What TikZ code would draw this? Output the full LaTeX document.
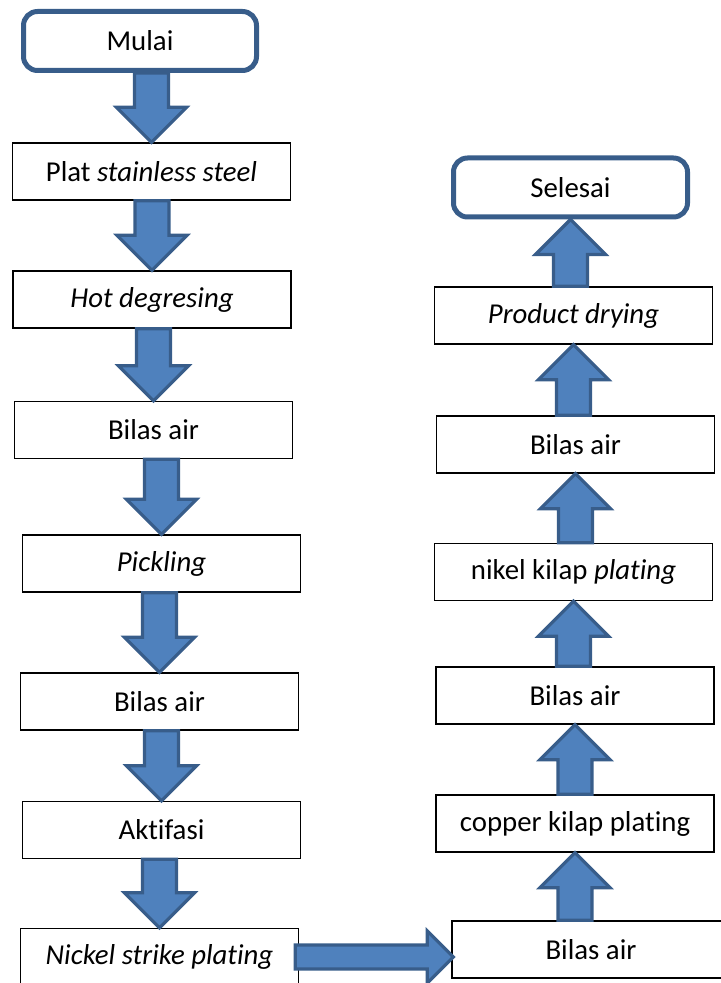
\documentclass[tikz,border=0pt]{standalone}
\usepackage{fontspec}
\setmainfont[Ligatures=NoCommon]{Carlito}
\usepackage{tikz}
\usetikzlibrary{calc}
\definecolor{arrowblue}{HTML}{4F81BD}
\definecolor{edgeblue}{HTML}{385D8A}
\tikzstyle{stepbox} = [draw, rectangle, minimum width=139pt,
    minimum height=28.5pt, inner sep=0pt, line width=0.7pt]
\tikzstyle{terminal} = [draw=edgeblue, rectangle, rounded corners=7pt,
    line width=2.5pt, minimum width=116.5pt, minimum height=29.5pt, inner sep=0pt]
\tikzstyle{fatarrow} = [fill=arrowblue, draw=edgeblue, line width=1.6pt]
% block arrows between two boxes
\newcommand{\arrowdown}[2]{%
  \draw[fatarrow] let \p1=(#1.south), \p2=(#2.north) in
    (\x2-8.5pt,\y1) -- (\x2-8.5pt,\y2+17.5pt) -- (\x2-17.5pt,\y2+17.5pt) -- (\x2,\y2)
    -- (\x2+17.5pt,\y2+17.5pt) -- (\x2+8.5pt,\y2+17.5pt) -- (\x2+8.5pt,\y1) -- cycle;}
\newcommand{\arrowup}[2]{%
  \draw[fatarrow] let \p1=(#1.north), \p2=(#2.south) in
    (\x2-8.5pt,\y1) -- (\x2-8.5pt,\y2-17.5pt) -- (\x2-17.5pt,\y2-17.5pt) -- (\x2,\y2)
    -- (\x2+17.5pt,\y2-17.5pt) -- (\x2+8.5pt,\y2-17.5pt) -- (\x2+8.5pt,\y1) -- cycle;}
\newcommand{\arrowright}[2]{%
  \draw[fatarrow] let \p1=(#1.east), \p2=(#2.west) in
    (\x1-2pt,\y1-6pt) -- (\x2-12pt,\y1-6pt) -- (\x2-12pt,\y1-13pt) -- (\x2+1pt,\y1)
    -- (\x2-12pt,\y1+13pt) -- (\x2-12pt,\y1+6pt) -- (\x1-2pt,\y1+6pt) -- cycle;}

\begin{document}
\begin{tikzpicture}[x=0.5pt, y=-0.5pt, font=\fontsize{14.4}{17}\selectfont]
	\useasboundingbox (0,0) rectangle (720,983);
	
	% left column
	\node[terminal] (mulai) at (140,41) {Mulai};
	\node[stepbox] (plat) at (151.5,171.5) {Plat \textit{stainless steel}};
	\node[stepbox] (hot) at (152,299.5) {\textit{Hot degresing}};
	\node[stepbox] (bilasA) at (153.5,430) {Bilas air};
	\node[stepbox] (pickling) at (161.5,563.5) {\textit{Pickling}};
	\node[stepbox] (bilasB) at (159.5,701.5) {Bilas air};
	\node[stepbox] (aktifasi) at (161.5,830) {Aktifasi};
	\node[stepbox] (nickel) at (159.5,957) {\textit{Nickel strike plating}};
	
	% right column
	\node[stepbox] (bilasE) at (591,949.5) {Bilas air};
	\node[stepbox] (copper) at (575,823.5) {copper kilap plating};
	\node[stepbox] (bilasD) at (575,695.5) {Bilas air};
	\node[stepbox] (nikel) at (573.5,572) {nikel kilap \textit{plating}};
	\node[stepbox] (bilasC) at (575.5,444.5) {Bilas air};
	\node[stepbox] (drying) at (573.5,315.5) {\textit{Product drying}};
	\node[terminal, minimum width=117pt] (selesai) at (570.5,187.5) {Selesai};
	
	\arrowdown{mulai}{plat}
	\arrowdown{plat}{hot}
	\arrowdown{hot}{bilasA}
	\arrowdown{bilasA}{pickling}
	\arrowdown{pickling}{bilasB}
	\arrowdown{bilasB}{aktifasi}
	\arrowdown{aktifasi}{nickel}
	\arrowright{nickel}{bilasE}
	\arrowup{bilasE}{copper}
	\arrowup{copper}{bilasD}
	\arrowup{bilasD}{nikel}
	\arrowup{nikel}{bilasC}
	\arrowup{bilasC}{drying}
	\arrowup{drying}{selesai}
\end{tikzpicture}
\end{document}
